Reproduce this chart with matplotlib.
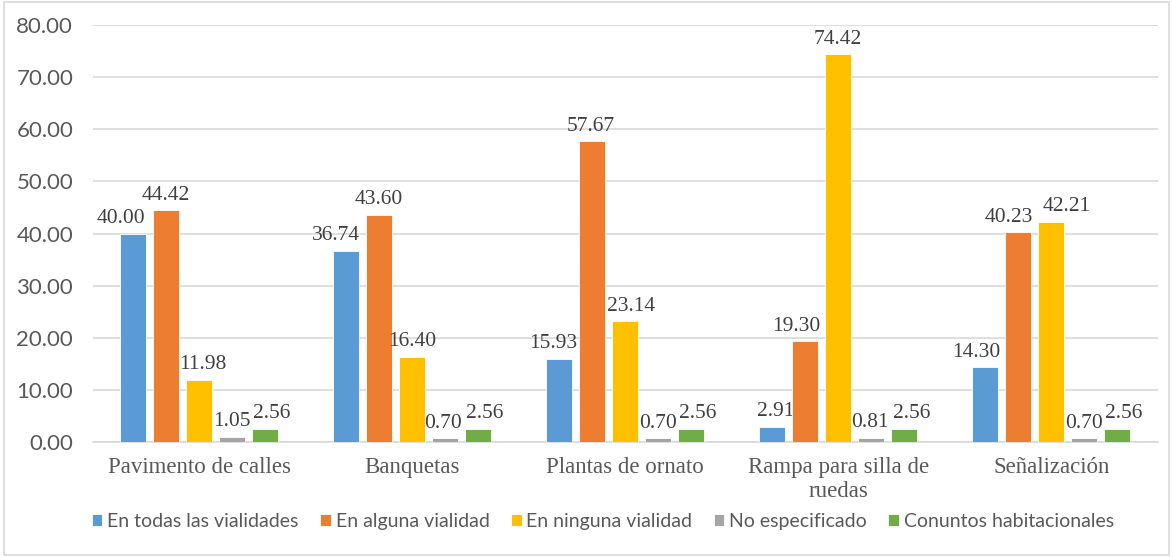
import matplotlib.pyplot as plt
import numpy as np
from matplotlib.patches import Rectangle

categorias = ["Pavimento de calles", "Banquetas", "Plantas de ornato",
              "Rampa para silla de\nruedas", "Señalización"]
series = ["En todas las vialidades", "En alguna vialidad", "En ninguna vialidad",
          "No especificado", "Conuntos habitacionales"]
todas = [40.00, 36.74, 15.93, 2.91, 14.30]
alguna = [44.42, 43.60, 57.67, 19.30, 40.23]
ninguna = [11.98, 16.40, 23.14, 74.42, 42.21]
no_esp = [1.05, 0.70, 0.70, 0.81, 0.70]
conjuntos = [2.56, 2.56, 2.56, 2.56, 2.56]
colores = ["#5B9BD5", "#ED7D31", "#FFC000", "#A5A5A5", "#70AD47"]

valores = [todas, alguna, ninguna, no_esp, conjuntos]

# desplazamiento horizontal de cada etiqueta (px) para que no se encimen, como hace Excel
corrimiento = [
    [-12, -10, -6, 3, -9],
    [0, 0, -1, -9, -9],
    [4, 0, 6, 0, 15],
    [0, -2, 0, -1, 0],
    [6, 6, 6, 7, 6],
]

fig = plt.figure(figsize=(11.73, 5.57), dpi=100)
ax = fig.add_axes([0.079, 0.2065, 0.908, 0.7485])

x = np.arange(len(categorias))
paso = 0.155
ancho = 0.122
for i, (vals, nombre, c) in enumerate(zip(valores, series, colores)):
    pos = x + (i - 2) * paso
    ax.bar(pos, vals, ancho, color=c, label=nombre, zorder=3,
           edgecolor="white", linewidth=0.6)
    for j, (xp, v) in enumerate(zip(pos, vals)):
        ax.annotate(f"{v:.2f}", (xp, v), xytext=(corrimiento[i][j] * 0.72, 4),
                    textcoords="offset points", ha="center", va="bottom",
                    fontsize=15.5, family="Liberation Serif", color="#404040")

ax.set_xlim(-0.5, 4.5)
ax.set_ylim(0, 80)
ax.set_yticks(np.arange(0, 81, 10))
ax.set_yticklabels([f"{t:.2f}" for t in np.arange(0, 81, 10)],
                   fontsize=16, family="Lato", color="#595959")
ax.set_xticks(x)
ax.set_xticklabels(categorias, fontsize=16.5, family="Liberation Serif",
                   color="#595959", linespacing=1.2)
ax.tick_params(axis="both", length=0)
ax.tick_params(axis="x", pad=11)
ax.tick_params(axis="y", pad=14)
ax.grid(axis="y", color="#D9D9D9", linewidth=1.2, zorder=0)
for s in ["top", "right", "left"]:
    ax.spines[s].set_visible(False)
ax.spines["bottom"].set_color("#D9D9D9")
ax.spines["bottom"].set_linewidth(1.2)

fig.legend(loc="center", bbox_to_anchor=(0.514, 0.064), ncol=5, frameon=False,
           prop={"family": "Lato", "size": 14}, handlelength=0.55, handleheight=0.55,
           handletextpad=0.25, columnspacing=1.1, labelcolor="#595959")

fig.patches.append(Rectangle((0.003, 0.003), 0.994, 0.994, transform=fig.transFigure,
                             fill=False, edgecolor="#D9D9D9", linewidth=1.2))

fig.savefig("out.png", dpi=100)
